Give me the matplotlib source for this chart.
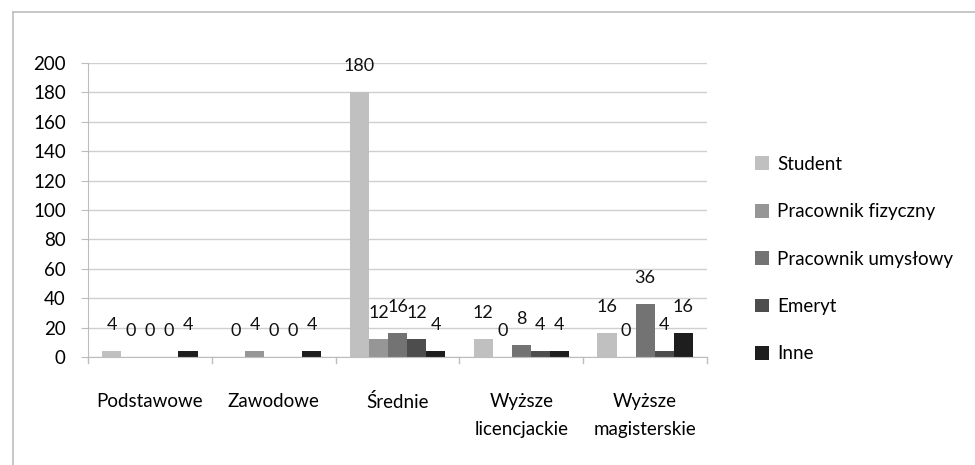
import matplotlib
matplotlib.use("Agg")
import matplotlib.pyplot as plt
import numpy as np
from matplotlib.lines import Line2D
from matplotlib.patches import Patch

plt.rcParams['font.family'] = ['Lato', 'DejaVu Sans']

categories = ["Podstawowe", "Zawodowe", "Średnie", "Wyższe\nlicencjackie", "Wyższe\nmagisterskie"]
series_names = ["Student", "Pracownik fizyczny", "Pracownik umysłowy", "Emeryt", "Inne"]
student = [4, 0, 180, 12, 16]
fizyczny = [0, 4, 12, 0, 0]
umyslowy = [0, 0, 16, 8, 36]
emeryt = [0, 0, 12, 4, 4]
inne = [4, 4, 4, 4, 16]
series = [student, fizyczny, umyslowy, emeryt, inne]
colors = ["#c0c0c0", "#969696", "#737373", "#4d4d4d", "#1e1e1e"]
yticks = [0, 20, 40, 60, 80, 100, 120, 140, 160, 180, 200]

W, H = 975, 465
fig = plt.figure(figsize=(W/100, H/100), dpi=100)
ax = fig.add_axes([88/W, 1-357/H, (707-88)/W, (357-63)/H])

n = len(series)
bw = 1/6.5
x = np.arange(len(categories))
for i, (vals, c) in enumerate(zip(series, colors)):
    pos = x + (i - (n-1)/2) * bw
    ax.bar(pos, vals, width=bw, color=c, label=series_names[i], zorder=2)
    for p, v in zip(pos, vals):
        ax.annotate(str(v), (p, v), xytext=(0, 19), textcoords='offset points',
                    ha='center', va='center', fontsize=13, color='#111111')

ax.set_xlim(-0.5, len(categories)-0.5)
ax.set_ylim(0, 200)
ax.set_yticks(yticks)
ax.set_yticklabels([str(t) for t in yticks], fontsize=13.5)
ax.yaxis.grid(True, color='#cfcfcf', linewidth=1, zorder=0)
ax.set_axisbelow(True)
ax.set_xticks(x)
ax.set_xticklabels(categories, fontsize=13.5, linespacing=1.75)
ax.tick_params(axis='x', length=0, pad=26)
ax.tick_params(axis='y', length=5, color='#bdbdbd', pad=11)
for b in np.arange(-0.5, len(categories), 1):
    ax.plot([b, b], [0, -0.022], transform=ax.get_xaxis_transform(), color='#bdbdbd',
            lw=1, clip_on=False)
for s in ['top', 'right']:
    ax.spines[s].set_visible(False)
for s in ['left', 'bottom']:
    ax.spines[s].set_color('#bdbdbd')

handles = [Patch(facecolor=c, edgecolor='none') for c in colors]
fig.legend(handles, series_names, loc='upper left', bbox_to_anchor=(738/W, 1-139/H),
           frameon=False, fontsize=13.5, handlelength=0.75, handleheight=0.75,
           handletextpad=0.45, labelspacing=1.62)

# outer chart frame
fig.add_artist(Line2D([13/W, 13/W], [0, 1-12/H], transform=fig.transFigure, color='#bdbdbd', lw=1.2))
fig.add_artist(Line2D([13/W, 1], [1-12/H, 1-12/H], transform=fig.transFigure, color='#bdbdbd', lw=1.2))

fig.savefig("out.png", dpi=100)
